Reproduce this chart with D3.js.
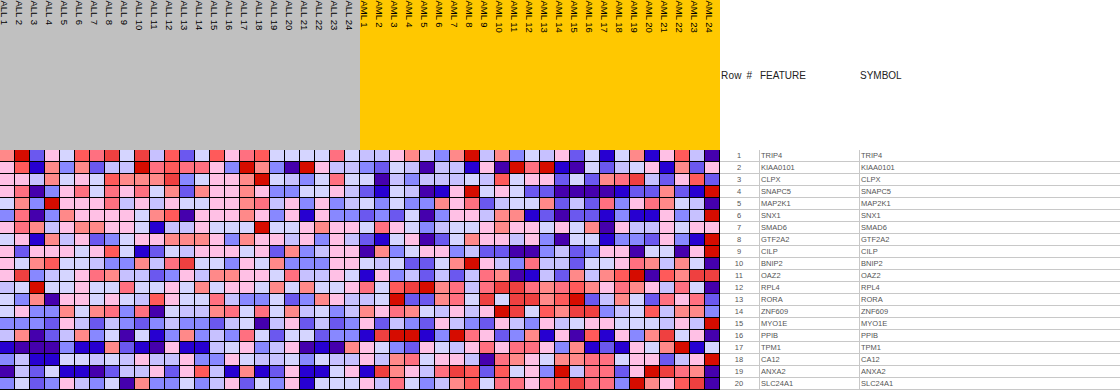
<!DOCTYPE html>
<html lang="en">
<head>
<meta charset="UTF-8">
<title>Heat map</title>
<script src="https://d3js.org/d3.v7.min.js"></script>
<style>
    html, body { margin: 0; padding: 0; background: #fff; overflow: hidden; }
    svg { display: block; }
    text { font-family: "Liberation Sans", Arial, sans-serif; }
    .colLabel { font-size: 9.5px; fill: #000; }
    .head { font-size: 10px; fill: #222; }
    .cellText { font-size: 7.5px; fill: #555; }
</style>
</head>
<body>
<svg width="1120" height="390"></svg>
<script>
const allSamples = d3.range(1, 25).map(i => "ALL " + i);
const amlSamples = d3.range(1, 25).map(i => "AML " + i);
const features = ["TRIP4","KIAA0101","CLPX","SNAPC5","MAP2K1","SNX1","SMAD6","GTF2A2","CILP","BNIP2",
    "OAZ2","RPL4","RORA","ZNF609","MYO1E","PPIB","TPM1","CA12","ANXA2","SLC24A1"];

// colour bucket of each cell (0 = lowest, 11 = highest)
const allValues = [
    [7,11,2,6,5,9,8,10,5,10,4,9,2,5,9,6,8,9,5,5,5,5,8,5],
    [6,9,1,7,3,7,2,4,4,11,8,9,8,8,6,3,11,7,3,0,11,6,4,4],
    [6,6,4,7,5,6,5,9,7,7,7,10,3,5,6,6,7,11,5,4,3,5,8,5],
    [6,8,0,3,6,8,5,8,6,8,5,7,2,7,6,6,7,6,3,3,5,5,6,4],
    [5,7,3,11,6,6,6,8,4,6,4,6,5,5,6,6,7,8,4,6,3,6,3,4],
    [3,8,0,3,7,6,6,6,6,5,7,9,0,6,6,6,7,6,3,6,1,6,3,3],
    [6,8,7,4,6,7,7,6,6,5,1,4,4,6,5,5,5,11,5,5,6,7,6,6],
    [5,6,1,7,4,6,2,3,5,6,6,7,7,7,6,3,7,6,6,4,6,3,6,4],
    [6,2,6,6,6,5,6,9,5,1,2,5,4,6,6,6,5,6,2,7,3,4,6,6],
    [6,5,7,9,5,5,4,3,3,7,4,8,10,5,5,3,6,5,7,3,3,3,6,6],
    [6,10,3,4,5,6,8,7,4,4,2,3,6,4,7,7,6,6,5,8,4,4,6,5],
    [4,5,11,5,5,6,5,5,8,5,5,6,5,7,5,6,6,5,7,5,7,5,5,6],
    [5,3,7,0,6,6,5,6,5,4,9,6,5,5,8,4,3,3,5,2,3,7,6,4],
    [5,6,3,3,7,5,7,8,3,8,0,5,4,4,7,8,5,8,5,7,4,5,3,4],
    [3,3,3,2,6,4,2,4,3,2,3,4,3,3,2,4,5,0,4,6,2,4,2,3],
    [4,7,0,2,4,7,3,5,0,5,1,3,7,3,4,3,8,5,2,5,5,2,3,3],
    [1,0,0,0,3,1,1,7,2,1,0,6,1,1,4,5,6,3,4,6,0,1,0,7],
    [3,4,1,1,5,5,4,5,4,6,4,4,6,3,3,6,5,4,4,5,3,5,4,4],
    [0,4,2,5,1,1,0,2,4,4,6,2,6,9,4,1,7,1,2,6,1,1,5,6],
    [3,5,2,3,6,4,3,5,0,7,3,3,5,3,4,6,2,5,3,6,1,5,5,5]
];
const amlValues = [
    [4,4,6,7,4,3,7,11,4,7,3,5,4,6,2,5,1,5,7,1,6,9,4,0],
    [3,2,5,4,0,4,4,1,6,0,11,8,11,1,0,5,2,4,5,6,1,7,2,6],
    [5,0,4,3,4,4,4,5,4,9,5,6,6,2,5,2,7,8,10,4,2,6,9,2],
    [2,1,5,4,0,1,6,11,5,6,5,2,2,0,0,0,0,1,2,2,7,2,1,11],
    [5,3,5,3,3,7,6,8,2,4,5,5,7,2,4,2,8,3,6,8,7,5,4,0],
    [2,3,2,5,0,3,6,6,4,7,7,1,2,0,2,2,1,3,1,1,6,3,4,11],
    [5,8,6,5,3,4,5,5,6,7,6,6,5,6,5,7,0,6,4,4,6,5,6,6],
    [2,1,5,6,0,2,5,7,6,6,4,6,3,0,5,5,1,3,3,2,6,3,1,11],
    [0,7,3,5,6,6,3,4,2,2,0,0,3,4,2,3,6,6,0,5,5,0,6,11],
    [5,4,5,2,2,5,7,11,6,4,3,8,4,4,2,5,5,6,8,7,4,7,5,0],
    [1,6,3,4,2,4,2,4,8,7,0,1,4,2,7,4,7,9,11,0,9,7,10,10],
    [8,5,9,10,11,7,8,4,8,10,10,8,7,8,9,7,6,8,7,6,4,8,5,0],
    [4,5,11,2,2,7,8,5,10,5,10,10,7,9,11,2,4,7,5,2,8,6,8,2],
    [7,6,8,7,5,4,6,4,6,11,10,5,9,7,10,10,3,4,5,9,4,7,7,3],
    [6,2,4,3,2,6,4,3,2,6,4,3,6,4,5,6,6,5,5,5,4,6,4,11],
    [1,10,11,11,1,3,11,8,6,2,3,7,1,6,0,9,1,6,3,7,10,5,6,0],
    [6,5,3,2,6,5,4,6,8,6,8,8,6,3,7,1,2,1,6,5,7,11,1,5],
    [6,4,7,8,5,6,6,4,0,8,7,6,5,7,7,8,8,5,6,6,2,4,6,11],
    [1,10,7,6,4,8,10,9,2,9,5,6,3,11,4,8,8,2,6,11,10,8,7,0],
    [6,4,8,5,3,4,7,9,5,8,8,6,8,9,10,8,8,3,11,7,6,9,10,0]
];
const palette = ["#4500AD","#2700D1","#6B58EF","#8888FF","#C7C1FF","#D5D5FF",
    "#FFC0E5","#FF8989","#FF7080","#FF5A5A","#EF4040","#D60C00"];

const svg = d3.select("svg");
const samples = allSamples.concat(amlSamples);
const x = d3.scaleBand().domain(samples).range([0, 720]);
const y = d3.scaleBand().domain(features).range([150, 390]);
const color = d3.scaleOrdinal().domain(d3.range(12)).range(palette);

// class bars on top
const groups = [
    {names: allSamples, fill: "#C0C0C0"},
    {names: amlSamples, fill: "#FFC800"}
];
svg.selectAll("rect.group")
    .data(groups)
    .enter()
    .append("rect").attr("class", "group")
    .attr("x", d => x(d.names[0]))
    .attr("y", 0)
    .attr("width", d => x.bandwidth() * d.names.length)
    .attr("height", 150)
    .style("fill", d => d.fill);

svg.selectAll("text.colLabel")
    .data(samples)
    .enter()
    .append("text").attr("class", "colLabel")
    .attr("transform", d => "translate(" + (x(d) + 0.5) + ",0.5) rotate(90)")
    .text(d => d);

// heat map cells, black backing shows through as the grid
svg.append("rect")
    .attr("x", 0).attr("y", 150)
    .attr("width", 720).attr("height", 240)
    .style("fill", "#000");

const cells = [];
features.forEach((f, r) => {
    samples.forEach((s, c) => {
        const v = c < allSamples.length ? allValues[r][c] : amlValues[r][c - allSamples.length];
        cells.push({feature: f, sample: s, value: v});
    });
});
svg.selectAll("rect.cell")
    .data(cells)
    .enter()
    .append("rect").attr("class", "cell")
    .attr("x", d => x(d.sample))
    .attr("y", d => y(d.feature))
    .attr("width", x.bandwidth() - 1)
    .attr("height", y.bandwidth() - 1)
    .style("fill", d => color(d.value));

// table on the right
const tableCols = {num: 720, feature: 760, symbol: 860, end: 1120};
svg.append("text").attr("class", "head").attr("x", tableCols.num + 1).attr("y", 79)
    .style("word-spacing", "2px").style("letter-spacing", "0.2px").text("Row #");
svg.append("text").attr("class", "head").attr("x", tableCols.feature).attr("y", 79).text("FEATURE");
svg.append("text").attr("class", "head").attr("x", tableCols.symbol).attr("y", 79).text("SYMBOL");

const rows = svg.selectAll("g.row")
    .data(features)
    .enter()
    .append("g").attr("class", "row")
    .attr("transform", d => "translate(0," + y(d) + ")");
rows.append("line")
    .attr("x1", tableCols.num).attr("x2", tableCols.end)
    .attr("y1", y.bandwidth() - 0.5).attr("y2", y.bandwidth() - 0.5)
    .style("stroke", "#c8c8c8");
rows.append("line")
    .attr("x1", tableCols.feature - 0.5).attr("x2", tableCols.feature - 0.5)
    .attr("y1", 0).attr("y2", y.bandwidth())
    .style("stroke", "#c8c8c8");
rows.append("line")
    .attr("x1", tableCols.symbol - 0.5).attr("x2", tableCols.symbol - 0.5)
    .attr("y1", 0).attr("y2", y.bandwidth())
    .style("stroke", "#c8c8c8");
rows.append("text").attr("class", "cellText")
    .attr("x", 739).attr("y", 8).attr("text-anchor", "middle")
    .text((d, i) => i + 1);
rows.append("text").attr("class", "cellText")
    .attr("x", tableCols.feature + 1).attr("y", 8).text(d => d);
rows.append("text").attr("class", "cellText")
    .attr("x", tableCols.symbol + 1).attr("y", 8).text(d => d);
</script>
</body>
</html>
